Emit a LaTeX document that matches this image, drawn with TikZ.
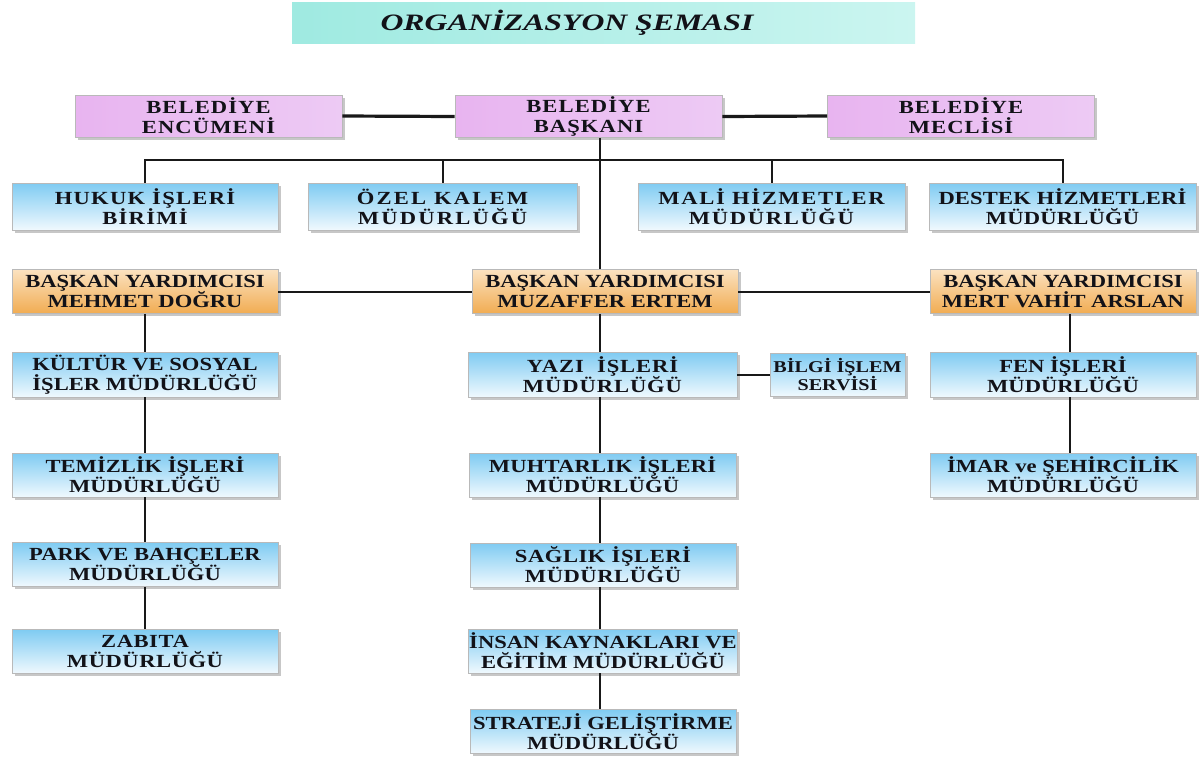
\documentclass[tikz,border=0pt]{standalone}
\usepackage{fontspec}
\setmainfont{Liberation Serif}
\newfontfamily\boxfont[FakeStretch=1.22]{Liberation Serif}
\newfontfamily\titlefont[FakeStretch=1.35]{Liberation Serif}
\usetikzlibrary{shadows}
\definecolor{pinkL}{HTML}{E8B4F0}
\definecolor{pinkM}{HTML}{DF98EC}
\definecolor{pinkR}{HTML}{EDCAF4}
\definecolor{blueT}{HTML}{7FCBF2}
\definecolor{blueB}{HTML}{F0F9FE}
\definecolor{orT}{HTML}{FBE2C0}
\definecolor{orB}{HTML}{F1AC52}
\definecolor{aquaL}{HTML}{9FEAE1}
\definecolor{aquaR}{HTML}{CBF5F0}
\definecolor{txt}{HTML}{121218}
\tikzset{
  bx/.style={draw=gray!55, line width=0.8pt, minimum height=44, inner sep=1pt,
    align=center, text=txt,
    font=\boxfont\bfseries\fontsize{18.5}{20}\selectfont,
    drop shadow={shadow xshift=2.5pt, shadow yshift=-2.5pt, fill=gray!80, opacity=0.55}},
  ls/.style={font=\boxfont\bfseries\fontsize{18.5}{20}\selectfont\addfontfeatures{LetterSpace=#1}},
  bluebox/.style={bx, top color=blueT, bottom color=blueB, minimum width=266},
  orbox/.style={bx, top color=orT, bottom color=orB, minimum width=266},
  pinkbox/.style={bx, left color=pinkL, middle color=pinkM, right color=pinkR, minimum width=267, minimum height=42},
  ln/.style={draw=black!90, line width=2pt},
  thick ln/.style={draw=black!90, line width=3.2pt}
}
\begin{document}
\begin{tikzpicture}[x=1pt,y=-1pt]
\useasboundingbox (0,0) rectangle (1200,756);
% title
\node[left color=aquaL, right color=aquaR, minimum width=623, minimum height=41, inner sep=0] (title) at (603.5,22.5) {};
\node[font=\titlefont\bfseries\itshape\fontsize{23.5}{24}\selectfont, text=txt, inner sep=0] (titletext) at (567,23) {ORGANİZASYON ŞEMASI};
% coordinates for vertical axes
\coordinate (cx) at (600,160);
\coordinate (rx) at (1070,160);
% top row
\node[pinkbox, ls=6] (enc) at (208.5,116) {BELEDİYE\\ENCÜMENİ};
\node[pinkbox, ls=6] (bas) at (588.5,116.5) {BELEDİYE\\BAŞKANI};
\node[pinkbox, ls=6] (mec) at (961,116) {BELEDİYE\\MECLİSİ};
% second row
\node[bluebox, ls=7, minimum height=47] (huk) at (145,206.5) {HUKUK İŞLERİ\\BİRİMİ};
\node[bluebox, ls=12, minimum width=269, minimum height=47] (oze) at (442.5,206.5) {ÖZEL KALEM\\MÜDÜRLÜĞÜ};
\node[bluebox, ls=9, minimum width=267, minimum height=47] (mal) at (771.5,206.5) {MALİ HİZMETLER\\MÜDÜRLÜĞÜ};
\node[bluebox, ls=1, minimum width=267, minimum height=47] (des) at (1062.5,206.5) {DESTEK HİZMETLERİ\\MÜDÜRLÜĞÜ};
% vice mayors
\node[orbox] (meh) at (145,291.5) {BAŞKAN YARDIMCISI\\MEHMET DOĞRU};
\node[orbox] (muz) at (605,291.5) {BAŞKAN YARDIMCISI\\MUZAFFER ERTEM};
\node[orbox] (mer) at (1063,291.5) {BAŞKAN YARDIMCISI\\MERT VAHİT ARSLAN};
% left column
\node[bluebox, minimum height=45] (kul) at (145,374.5) {KÜLTÜR VE SOSYAL\\İŞLER MÜDÜRLÜĞÜ};
\node[bluebox] (tem) at (145,475) {TEMİZLİK İŞLERİ\\MÜDÜRLÜĞÜ};
\node[bluebox] (par) at (145,564.5) {PARK VE BAHÇELER\\MÜDÜRLÜĞÜ};
\node[bluebox, ls=3] (zab) at (145,651.5) {ZABITA\\MÜDÜRLÜĞÜ};
% middle column
\node[bluebox, ls=5, minimum width=269, minimum height=45] (yaz) at (602.5,374.5) {YAZI\ \ İŞLERİ\\MÜDÜRLÜĞÜ};
\node[bx, top color=blueT, bottom color=blueB, minimum width=135, minimum height=43,
  font=\boxfont\bfseries\fontsize{16.5}{18.5}\selectfont] (bil) at (837.5,374.5) {BİLGİ İŞLEM\\SERVİSİ};
\node[bluebox, ls=1, minimum width=267] (muh) at (602.5,475) {MUHTARLIK İŞLERİ\\MÜDÜRLÜĞÜ};
\node[bluebox, ls=3] (sag) at (603,565) {SAĞLIK İŞLERİ\\MÜDÜRLÜĞÜ};
\node[bluebox] (ins) at (603,651) {İNSAN KAYNAKLARI VE\\EĞİTİM MÜDÜRLÜĞÜ};
\node[bluebox] (str) at (603,731.5) {STRATEJİ GELİŞTİRME\\MÜDÜRLÜĞÜ};
% right column
\node[bluebox, minimum height=45] (fen) at (1063,374.5) {FEN İŞLERİ\\MÜDÜRLÜĞÜ};
\node[bluebox] (ima) at (1063,475) {İMAR ve ŞEHİRCİLİK\\MÜDÜRLÜĞÜ};
% connectors
\draw[thick ln] (enc.east) -- (bas.west);
\draw[thick ln] (bas.west -| bas.east) -- (mec.west);
\draw[ln] (huk.north) -- (huk.north |- cx) -- (des.north |- cx) -- (des.north);
\draw[ln] (oze.north) -- (oze.north |- cx);
\draw[ln] (mal.north) -- (mal.north |- cx);
\draw[ln] (bas.south -| cx) -- (muz.north -| cx);
\draw[ln] (meh.east) -- (muz.west);
\draw[ln] (muz.east) -- (mer.west);
\draw[ln] (meh.south) -- (kul.north);
\draw[ln] (kul.south) -- (tem.north);
\draw[ln] (tem.south) -- (par.north);
\draw[ln] (par.south) -- (zab.north);
\draw[ln] (muz.south -| cx) -- (yaz.north -| cx);
\draw[ln] (yaz.south -| cx) -- (muh.north -| cx);
\draw[ln] (muh.south -| cx) -- (sag.north -| cx);
\draw[ln] (sag.south -| cx) -- (ins.north -| cx);
\draw[ln] (ins.south -| cx) -- (str.north -| cx);
\draw[ln] (yaz.east) -- (bil.west);
\draw[ln] (mer.south -| rx) -- (fen.north -| rx);
\draw[ln] (fen.south -| rx) -- (ima.north -| rx);
\end{tikzpicture}
\end{document}
